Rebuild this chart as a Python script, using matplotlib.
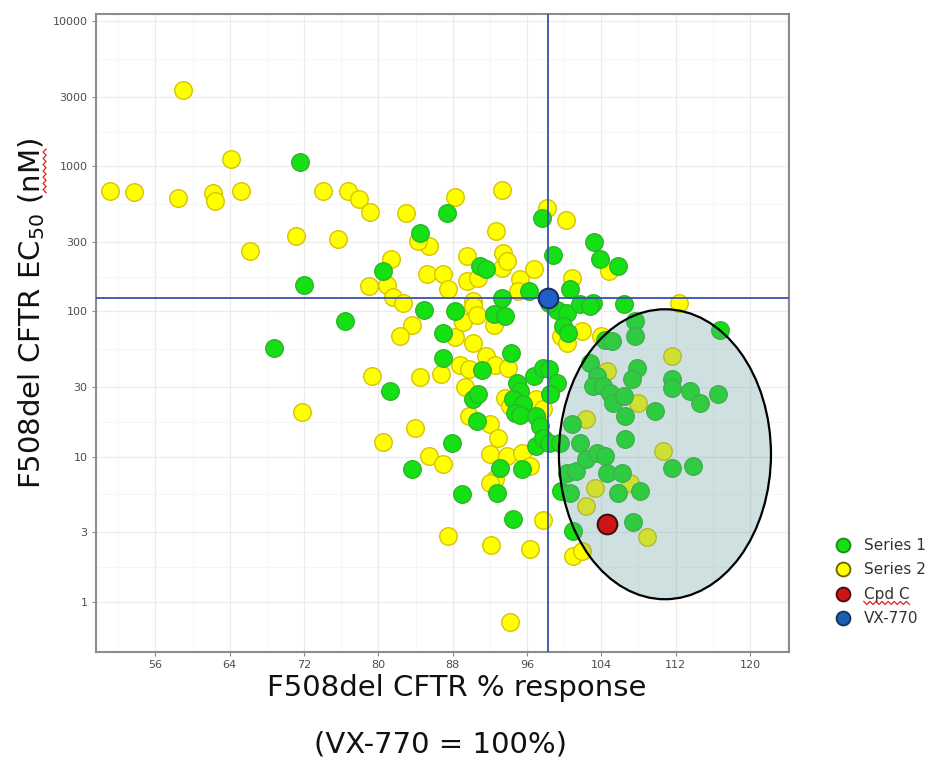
import matplotlib.pyplot as plt
import numpy as np
from matplotlib.patches import Ellipse
from matplotlib.lines import Line2D
from matplotlib.ticker import FixedLocator, FixedFormatter, NullFormatter

plt.rcParams['font.family'] = 'DejaVu Sans'

# % response (VX-770 = 100%) and EC50 (nM) per compound
s1_resp = [71.6, 72.0, 87.4, 84.5, 80.5, 76.4, 84.9, 88.2, 90.9, 68.8,
           87.0, 87.0, 90.2, 90.7, 81.3, 90.6, 87.9, 83.6, 89.0, 92.4,
           93.6, 94.3, 91.1, 94.9, 95.2, 94.5, 95.6, 94.7, 95.2, 96.8,
           97.7, 98.4, 97.0, 97.4, 97.0, 97.7, 98.4, 93.1, 95.5, 92.8,
           94.5, 101.0, 97.6, 98.8, 103.2, 103.9, 105.8, 91.6, 96.2, 100.6,
           103.1, 106.4, 93.3, 99.2, 100.3, 99.9, 100.4, 101.7, 102.8, 104.4,
           98.4, 116.8, 107.6, 107.6, 105.1, 107.8, 107.3, 102.8, 103.5, 103.1,
           104.2, 104.9, 105.3, 106.4, 106.6, 109.8, 111.6, 111.6, 113.5, 114.6,
           116.6, 100.8, 106.5, 111.6, 113.9, 101.7, 100.3, 101.3, 102.4, 103.5,
           104.4, 104.6, 106.2, 105.8, 108.2, 99.2, 98.5, 99.5, 99.7, 100.6,
           107.4]
s1_ec50 = [1070, 152, 477, 348, 189, 86, 103, 100, 205, 56,
           71, 48, 24.8, 27, 28.3, 17.6, 12.4, 8.2, 5.5, 95.5,
           93, 52, 39.5, 32.3, 28.3, 24.8, 22.9, 20.1, 19.2, 36,
           41, 40, 19, 16.3, 11.8, 13.5, 12.5, 8.4, 8.2, 5.65,
           3.74, 3.08, 441, 243, 300, 228, 207, 195, 138, 142,
           115, 112, 124, 103, 98, 79, 71, 112, 109, 64,
           115, 75, 86, 67.6, 62.5, 41, 34, 44.4, 36, 30.6,
           30.6, 27.6, 23.5, 26.1, 19, 20.6, 34, 29.9, 28.3, 23.5,
           26.9, 16.7, 13.2, 8.4, 8.6, 12.5, 7.76, 7.96, 9.6, 10.6,
           10.1, 7.76, 7.76, 5.65, 5.8, 32.3, 26.9, 12.5, 5.8, 5.65,
           3.52]

s2_resp = [59.0, 51.1, 53.7, 58.4, 62.2, 62.4, 64.1, 65.2, 66.2, 71.1,
           74.0, 76.7, 77.9, 79.1, 75.6, 83.0, 88.2, 81.4, 85.4, 84.3,
           89.5, 79.0, 80.9, 81.6, 82.6, 85.2, 87.0, 87.5, 89.5, 90.2,
           90.7, 83.6, 82.3, 88.2, 89.1, 90.2, 88.8, 89.7, 79.3, 84.5,
           86.7, 89.3, 71.8, 83.9, 89.8, 80.5, 85.4, 87.0, 87.5, 90.2,
           90.6, 92.4, 91.6, 92.5, 93.9, 93.6, 94.2, 96.0, 97.0, 97.7,
           92.0, 92.9, 92.0, 93.8, 95.5, 92.5, 92.0, 97.7, 92.1, 96.3,
           94.2, 101.0, 101.9, 93.3, 98.1, 100.2, 92.7, 104.8, 93.4, 93.3,
           93.8, 95.2, 96.7, 95.0, 100.8, 99.7, 101.9, 100.3, 112.4, 104.0,
           111.6, 104.6, 108.0, 102.4, 110.6, 96.3, 102.4, 103.3, 108.9, 107.1]
s2_ec50 = [3370, 673, 670, 605, 656, 580, 1130, 673, 260, 330,
           673, 680, 600, 482, 316, 477, 615, 228, 281, 305,
           240, 149, 153, 125, 115, 180, 182, 142, 162, 118,
           171, 81, 68, 67, 84, 61, 43, 40, 36, 35.5,
           36.8, 30.3, 20.4, 15.7, 19, 12.7, 10.1, 8.85, 2.85, 109,
           95, 81, 49, 43, 41, 25.5, 22.3, 22.3, 24.8, 21.2,
           16.7, 13.5, 10.4, 10.1, 10.5, 7.0, 6.6, 3.65, 2.45, 2.3,
           0.72, 2.07, 2.24, 684, 517, 428, 357, 189, 254, 200,
           222, 166, 195, 138, 171, 67.6, 73, 61, 115, 67.6,
           49, 38.8, 23.5, 18.1, 10.9, 8.6, 4.57, 6.1, 2.77, 6.6]

cpdc_resp = [104.6]
cpdc_ec50 = [3.42]
vx770_resp = [98.3]
vx770_ec50 = [123]

x_ticks = [56, 64, 72, 80, 88, 96, 104, 112, 120]
x_minor = [52, 60, 68, 76, 84, 92, 100, 108, 116, 124]
y_ticks = [1, 3, 10, 30, 100, 300, 1000, 3000, 10000]
y_tick_labels = ['1', '3', '10', '30', '100', '300', '1000', '3000', '10000']
y_minor = [1.73, 5.48, 17.3, 54.8, 173, 548, 1732, 5477]

green, green_edge = '#14e014', '#2cb52c'
yellow, yellow_edge = '#ffff00', '#d6c400'
red, red_edge = '#cc1616', '#4a0a0a'
blue, blue_edge = '#1f5fc6', '#1c2d5e'
line_blue = '#3b4fae'

fig = plt.figure(figsize=(9.45, 7.67), dpi=100)
ax = fig.add_axes([0.1016, 0.1499, 0.7333, 0.8318])
ax.set_yscale('log')
ax.set_xlim(49.6, 124.2)
ax.set_ylim(0.45, 11200)

ax.xaxis.set_major_locator(FixedLocator(x_ticks))
ax.xaxis.set_minor_locator(FixedLocator(x_minor))
ax.yaxis.set_major_locator(FixedLocator(y_ticks))
ax.yaxis.set_major_formatter(FixedFormatter(y_tick_labels))
ax.yaxis.set_minor_locator(FixedLocator(y_minor))
ax.yaxis.set_minor_formatter(NullFormatter())

ax.grid(which='major', color='#ebebeb', lw=0.9)
ax.grid(which='minor', color='#f5f5f5', lw=0.6)
ax.set_axisbelow(True)
ax.tick_params(which='major', length=3, width=0.8, color='#8c8c8c',
               labelsize=8, labelcolor='#4d4d4d', pad=3)
ax.tick_params(which='minor', length=0)
for sp in ax.spines.values():
    sp.set_color('#8c8c8c')
    sp.set_linewidth(1.5)

ax.scatter(s2_resp, s2_ec50, s=160, c=yellow, edgecolors=yellow_edge,
           linewidths=1, zorder=3)
ax.scatter(s1_resp, s1_ec50, s=160, c=green, edgecolors=green_edge,
           linewidths=1, zorder=3)

# reference lines through VX-770
ax.axvline(vx770_resp[0], color=line_blue, lw=1.3, zorder=4)
ax.axhline(vx770_ec50[0], color=line_blue, lw=1.3, zorder=4)

# highlighted region
ax.add_patch(Ellipse((0.821, 0.310), 0.306, 0.4545, transform=ax.transAxes,
                     facecolor=(0.42, 0.63, 0.63, 0.32), edgecolor='black',
                     lw=1.6, zorder=5))

ax.scatter(cpdc_resp, cpdc_ec50, s=200, c=red, edgecolors=red_edge,
           linewidths=1.5, zorder=6)
ax.scatter(vx770_resp, vx770_ec50, s=200, c=blue, edgecolors=blue_edge,
           linewidths=1.5, zorder=6)

ylab = fig.text(0.033, 1 - 313 / 767, 'F508del CFTR EC$_{50}$ (nM)', rotation=90,
                ha='center', va='center', fontsize=21, color='#111111')
fig.text(457 / 945, 1 - 688 / 767, 'F508del CFTR % response', ha='center',
         va='center', fontsize=21, color='#111111')
fig.text(441 / 945, 1 - 745 / 767, '(VX-770 = 100%)', ha='center',
         va='center', fontsize=21, color='#111111')

handles = [Line2D([], [], ls='', marker='o', ms=10, mfc=c, mec=e, mew=1.3)
           for c, e in [(green, '#1a8a1a'), (yellow, '#6b6000'),
                        (red, red_edge), ('#1b5fb0', '#123060')]]
labels = ['Series 1', 'Series 2', 'Cpd C', 'VX-770']
leg = fig.legend(handles, labels, loc='upper left',
                 bbox_to_anchor=(834 / 945, 1 - 538 / 767), frameon=False,
                 fontsize=11, labelspacing=0.62, handletextpad=0.75,
                 handlelength=1.2, borderpad=0, borderaxespad=0)
for t in leg.get_texts():
    t.set_color('#333333')


def squiggle(x0, x1, y, vertical=False, step=3.0, amp=1.5):
    # red wavy spell-check underline, in pixel units
    n = max(int((x1 - x0) / step), 2)
    t = np.linspace(x0, x1, n + 1)
    w = y + amp * np.where(np.arange(n + 1) % 2 == 0, 1, -1)
    xs, ys = (w, t) if vertical else (t, w)
    inv = fig.transFigure.inverted()
    pts = inv.transform(np.column_stack([xs, ys]))
    fig.add_artist(Line2D(pts[:, 0], pts[:, 1], color='#e02020', lw=0.9))


fig.canvas.draw()
r = fig.canvas.get_renderer()
bb = leg.get_texts()[2].get_window_extent(r)
squiggle(bb.x0, bb.x1, bb.y0 - 1)
bb = ylab.get_window_extent(r)
px = 21 * 100 / 72
squiggle(bb.y1 - px * 1.9, bb.y1 - px * 0.4, bb.x1 - 2, vertical=True)

fig.savefig('out.png', dpi=100)
